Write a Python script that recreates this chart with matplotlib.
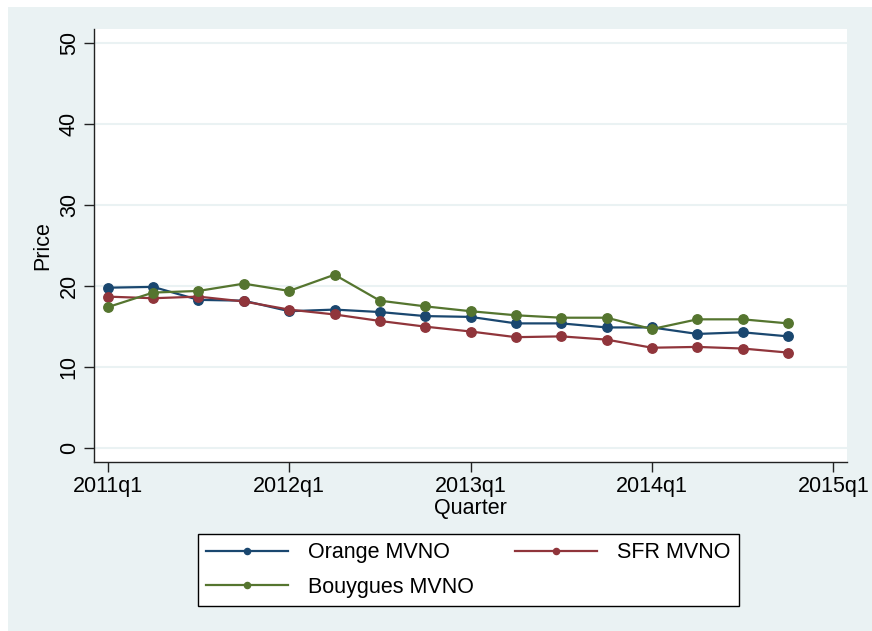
import matplotlib.pyplot as plt
from matplotlib.patches import Rectangle

# データ（2011q1〜2014q4）
quarters = list(range(16))
tick_pos = [0, 4, 8, 12, 16]
tick_labels = ["2011q1", "2012q1", "2013q1", "2014q1", "2015q1"]

orange = [19.8, 19.9, 18.3, 18.2, 16.9, 17.1, 16.8, 16.3,
          16.2, 15.4, 15.4, 14.9, 14.9, 14.1, 14.3, 13.8]
sfr = [18.7, 18.5, 18.7, 18.1, 17.1, 16.5, 15.7, 15.0,
       14.4, 13.7, 13.8, 13.4, 12.4, 12.5, 12.3, 11.8]
bouygues = [17.4, 19.2, 19.4, 20.3, 19.4, 21.4, 18.2, 17.5,
            16.9, 16.4, 16.1, 16.1, 14.7, 15.9, 15.9, 15.4]

plt.rcParams['font.family'] = ['Liberation Sans', 'DejaVu Sans']
fs = 15.5

bg = "#eaf2f3"
navy = "#1a476f"
maroon = "#90353b"
green = "#55752f"

fig = plt.figure(figsize=(8.72, 6.31), dpi=100, facecolor="white")
fig.patches.append(Rectangle((8 / 872, 0), 1, 1 - 7 / 631, transform=fig.transFigure,
                             facecolor=bg, edgecolor="none", zorder=-10))

ax = fig.add_axes([93.7 / 872, 1 - 461.7 / 631, (847 - 93.7) / 872, (461.7 - 29) / 631])
ax.set_facecolor("white")

kw = dict(lw=1.6, marker="o", markersize=6.8)
l1, = ax.plot(quarters, orange, color=navy, label="Orange MVNO", **kw)
l2, = ax.plot(quarters, sfr, color=maroon, label="SFR MVNO", **kw)
l3, = ax.plot(quarters, bouygues, color=green, label="Bouygues MVNO", **kw)

ax.set_xlim(-0.31, 16.30)
ax.set_ylim(-1.65, 51.69)
ax.set_yticks([0, 10, 20, 30, 40, 50])
ax.set_xticks(tick_pos)
ax.set_xticklabels(tick_labels)
ax.grid(axis="y", color=bg, lw=1.5)
ax.set_axisbelow(True)

for s in ["top", "right"]:
    ax.spines[s].set_visible(False)
for s in ["left", "bottom"]:
    ax.spines[s].set_color("#222222")
    ax.spines[s].set_linewidth(1.0)

ax.tick_params(axis="both", length=7, width=1, color="#222222", labelsize=fs, pad=3)
for lab in ax.get_yticklabels():
    lab.set_rotation(90)
    lab.set_va("center")

ax.set_xlabel("Quarter", fontsize=fs, labelpad=1)
ax.set_ylabel("Price", fontsize=fs, labelpad=4)

# 凡例（列ごとに並ぶので順番を入れ替え）
leg = fig.legend([l1, l3, l2], ["Orange MVNO", "Bouygues MVNO", "SFR MVNO"],
                 loc="center", bbox_to_anchor=(468.5 / 872, 1 - 570 / 631), ncol=2,
                 fontsize=fs, frameon=True, fancybox=False, edgecolor="black",
                 facecolor="white", framealpha=1,
                 markerscale=0.65, handlelength=3.8, handletextpad=0.95,
                 columnspacing=1.9, borderpad=0.4, labelspacing=0.62)
leg.get_frame().set_linewidth(1.0)

fig.savefig("out.png", dpi=100, facecolor=fig.get_facecolor())
